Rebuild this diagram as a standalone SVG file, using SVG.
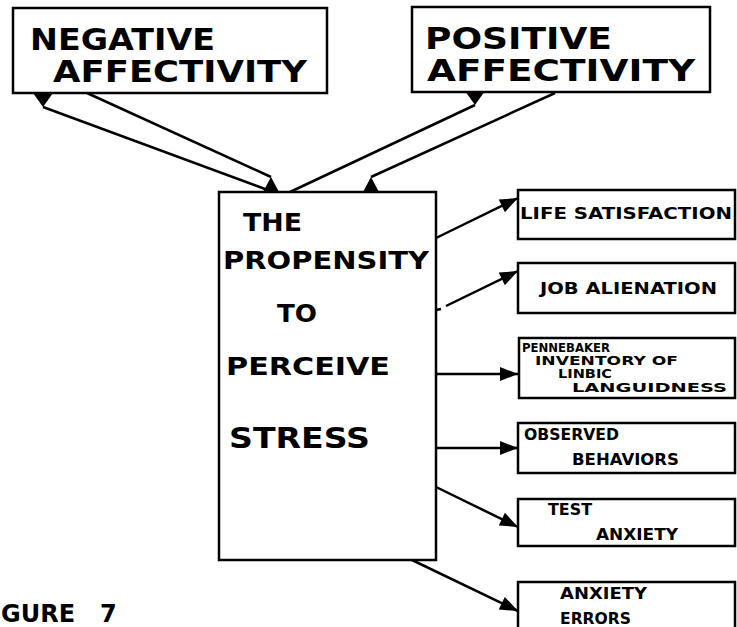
<svg xmlns="http://www.w3.org/2000/svg" width="737" height="627" viewBox="0 0 737 627">
<style>
.box{fill:#fff;stroke:#000;stroke-width:2.5}
.c{fill:none;stroke:#000;stroke-width:2.5}
text{font-family:"DejaVu Sans","Liberation Sans",sans-serif;font-weight:bold;fill:#000}
.big{font-size:30px}
.mid{font-size:24px}
.st{font-size:28px}
.sm{font-size:15px}
.pn{font-size:12px}
</style>
<defs>
<marker id="ah" markerUnits="userSpaceOnUse" markerWidth="24" markerHeight="20" viewBox="-20 -10 24 20" refX="0" refY="0" orient="auto">
<path d="M0,0 L-18,-7 L-18,7 Z" fill="#000"/>
</marker>
<marker id="tu" markerUnits="userSpaceOnUse" markerWidth="24" markerHeight="24" viewBox="-12 -4 24 24" refX="0" refY="0" orient="0">
<path d="M0,0 L8,15 L-8,15 Z" fill="#000"/>
</marker>
<marker id="td" markerUnits="userSpaceOnUse" markerWidth="24" markerHeight="24" viewBox="-12 -20 24 24" refX="0" refY="0" orient="0">
<path d="M0,0 L10,-14 L-10,-14 Z" fill="#000"/>
</marker>
</defs>
<rect width="737" height="627" fill="#fff"/>
<g id="connectors">
<line class="c" x1="265" y1="189" x2="43" y2="107" marker-end="url(#td)"/>
<line class="c" x1="87" y1="93" x2="271" y2="177" marker-end="url(#tu)"/>
<line class="c" x1="290" y1="192" x2="475" y2="105" marker-end="url(#td)"/>
<line class="c" x1="555" y1="93" x2="371" y2="177" marker-end="url(#tu)"/>
<line class="c" x1="436" y1="238" x2="518" y2="198" marker-end="url(#ah)"/>
<line class="c" x1="436" y1="310" x2="441" y2="309"/>
<line class="c" x1="446" y1="306" x2="518" y2="271" marker-end="url(#ah)"/>
<line class="c" x1="436" y1="374" x2="518" y2="374" marker-end="url(#ah)"/>
<line class="c" x1="436" y1="448" x2="518" y2="448" marker-end="url(#ah)"/>
<line class="c" x1="436" y1="487" x2="518" y2="527" marker-end="url(#ah)"/>
<line class="c" x1="412" y1="560" x2="518" y2="611" marker-end="url(#ah)"/>
</g>
<g id="negative">
<rect class="box" x="13" y="8" width="314" height="85"/>
<text class="big" x="30" y="50" textLength="185" lengthAdjust="spacingAndGlyphs">NEGATIVE</text>
<text class="big" x="53" y="82" textLength="254" lengthAdjust="spacingAndGlyphs">AFFECTIVITY</text>
</g>
<g id="positive">
<rect class="box" x="412" y="7" width="298" height="85"/>
<text class="big" x="425" y="49" textLength="187" lengthAdjust="spacingAndGlyphs">POSITIVE</text>
<text class="big" x="427" y="81" textLength="268" lengthAdjust="spacingAndGlyphs">AFFECTIVITY</text>
</g>
<g id="propensity">
<rect class="box" x="219" y="192" width="217" height="368" fill="none"/>
<text class="mid" x="243" y="231" textLength="59" lengthAdjust="spacingAndGlyphs">THE</text>
<text class="mid" x="223" y="269" textLength="206" lengthAdjust="spacingAndGlyphs">PROPENSITY</text>
<text class="mid" x="277" y="322" textLength="40" lengthAdjust="spacingAndGlyphs">TO</text>
<text class="mid" x="226" y="375" textLength="164" lengthAdjust="spacingAndGlyphs">PERCEIVE</text>
<text class="st" x="229" y="448" textLength="141" lengthAdjust="spacingAndGlyphs">STRESS</text>
</g>
<g id="life">
<rect class="box" x="518" y="190" width="217" height="49"/>
<text class="sm" x="520" y="219" textLength="212" lengthAdjust="spacingAndGlyphs">LIFE SATISFACTION</text>
</g>
<g id="job">
<rect class="box" x="518" y="263" width="217" height="50"/>
<text class="sm" x="540" y="294" textLength="177" lengthAdjust="spacingAndGlyphs">JOB ALIENATION</text>
</g>
<g id="pennebaker">
<rect class="box" x="519" y="338" width="216" height="60"/>
<text class="pn" x="522" y="352" textLength="88" lengthAdjust="spacingAndGlyphs">PENNEBAKER</text>
<text class="pn" x="535" y="365" textLength="143" lengthAdjust="spacingAndGlyphs">INVENTORY OF</text>
<text class="pn" x="558" y="378" textLength="54" lengthAdjust="spacingAndGlyphs">LINBIC</text>
<text class="pn" x="572" y="392" textLength="155" lengthAdjust="spacingAndGlyphs">LANGUIDNESS</text>
</g>
<g id="observed">
<rect class="box" x="518" y="423" width="217" height="50"/>
<text class="sm" x="524" y="440" textLength="95" lengthAdjust="spacingAndGlyphs">OBSERVED</text>
<text class="sm" x="572" y="465" textLength="107" lengthAdjust="spacingAndGlyphs">BEHAVIORS</text>
</g>
<g id="test">
<rect class="box" x="518" y="499" width="217" height="47"/>
<text class="sm" x="548" y="515" textLength="44" lengthAdjust="spacingAndGlyphs">TEST</text>
<text class="sm" x="596" y="540" textLength="82" lengthAdjust="spacingAndGlyphs">ANXIETY</text>
</g>
<g id="errors">
<rect class="box" x="518" y="582" width="217" height="60"/>
<text class="sm" x="560" y="599" textLength="87" lengthAdjust="spacingAndGlyphs">ANXIETY</text>
<text class="sm" x="560" y="624" textLength="71" lengthAdjust="spacingAndGlyphs">ERRORS</text>
</g>
<g id="caption">
<text class="mid" x="1" y="622">GURE<tspan x="100">7</tspan></text>
</g>
</svg>
